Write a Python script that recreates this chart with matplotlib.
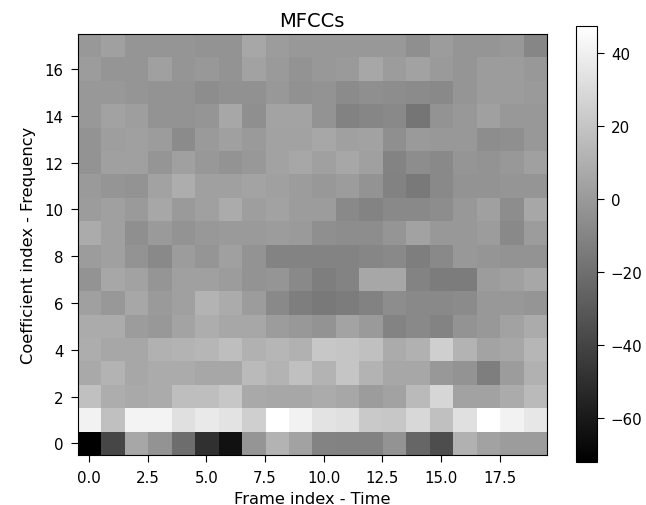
import numpy as np
import matplotlib
matplotlib.use('Agg')
import matplotlib.pyplot as plt

# the reference was saved at a higher dpi and scaled down, so text is a bit bigger
plt.rcParams['font.size'] = 11.7
plt.rcParams['axes.titlesize'] = 14
plt.rcParams['xtick.labelsize'] = 10.8
plt.rcParams['ytick.labelsize'] = 10.8
plt.rcParams['xtick.major.size'] = 5
plt.rcParams['ytick.major.size'] = 5
plt.rcParams['xtick.major.pad'] = 6
plt.rcParams['ytick.major.pad'] = 5

# MFCC values, one list per coefficient
coef_0 = [-72, -39, 6, -3, -21, -49, -64, -2, 12, 4, -10, -11, -11, -3, -24, -36, 11, 4, 1, 1]
coef_1 = [41, 18, 42, 42, 33, 37, 34, 25, 47.5, 41, 34, 33, 22, 21, 29, 18, 33, 47.5, 41, 36]
coef_2 = [18, 9, 7, 8, 17, 17, 21, 7, 6, 6, 8, 6, 1, 4, 15, 28, 4, 4, 8, 15]
coef_3 = [7, 12, 6, 8, 8, 6, 6, 15, 12, 18, 12, 20, 12, 6, 6, -1, -3, -13, 1, 11]
coef_4 = [9, 6, 6, 11, 12, 13, 17, 11, 13, 11, 21, 20, 18, 8, 11, 25, 12, 5, 6, 13]
coef_5 = [8, 8, 1, -1, 5, 9, 6, 6, 1, -1, -3, 5, 0, -10, -8, -10, -3, -1, 4, 8]
coef_6 = [3, -1, 6, 0, 3, 12, 8, 1, -8, -13, -15, -14, -11, -6, -8, -8, -7, -1, -1, -2]
coef_7 = [-3, 6, 4, -2, 3, 3, 1, -3, -2, -8, -13, -10, 6, 6, -10, -14, -14, 1, 3, 6]
coef_8 = [1, 3, -3, -8, 1, -2, 3, -3, -10, -10, -10, -10, -9, -8, -13, -8, -1, -2, -3, -3]
coef_9 = [8, 3, -5, 0, -3, -1, 0, 0, 1, 0, -5, -6, -6, -2, 4, -1, -1, 1, -8, 1]
coef_10 = [1, 3, 0, 6, 0, 3, 8, 2, 4, 1, 1, -8, -10, -8, -8, -6, -1, 3, -6, 6]
coef_11 = [0, -2, -3, 4, 9, 3, 3, 5, 3, 1, -1, 1, -3, -11, -15, -8, -3, -3, -2, -2]
coef_12 = [-3, 3, 3, -2, 3, -1, -3, -1, 4, 6, 3, 6, 3, -10, -6, -8, -2, -3, -1, 3]
coef_13 = [-3, 2, 3, 1, -7, 0, 3, 0, 4, 4, 6, 3, 4, -5, 0, -1, -1, -6, -5, -1]
coef_14 = [-1, 4, 2, -3, -3, -2, 6, -5, 5, 5, -3, -11, -9, -8, -17, -3, -1, 3, -1, -1]
coef_15 = [-1, -1, -2, -3, -3, -6, -4, -4, -1, -4, -3, -7, -5, -6, -7, -8, -2, 1, 1, 0]
coef_16 = [1, -2, -2, 3, -2, -1, -3, 4, 0, -3, -1, 0, 6, 1, 4, 0, -2, 1, 1, -1]
coef_17 = [-1, 3, -2, -2, -2, -3, -3, 6, 1, -1, -1, -1, -1, -1, -5, 1, -2, -2, -1, -9]

mfccs = np.array([coef_0, coef_1, coef_2, coef_3, coef_4, coef_5, coef_6, coef_7, coef_8,
                  coef_9, coef_10, coef_11, coef_12, coef_13, coef_14, coef_15, coef_16, coef_17])

W, H = 646, 506
fig = plt.figure(figsize=(W / 100, H / 100), dpi=100)

# axes boxes in pixels
ax = fig.add_axes([77.5 / W, 1 - 456 / H, 469 / W, 421 / H])
cax = fig.add_axes([575.5 / W, 1 - 463 / H, 21.5 / W, 436 / H])

im = ax.imshow(mfccs, cmap='gray', origin='lower', aspect='auto', interpolation='nearest')
ax.set_title('MFCCs')
ax.set_xlabel('Frame index - Time')
ax.set_ylabel('Coefficient index - Frequency', labelpad=6)
fig.colorbar(im, cax=cax)

fig.savefig('out.png', dpi=100)
